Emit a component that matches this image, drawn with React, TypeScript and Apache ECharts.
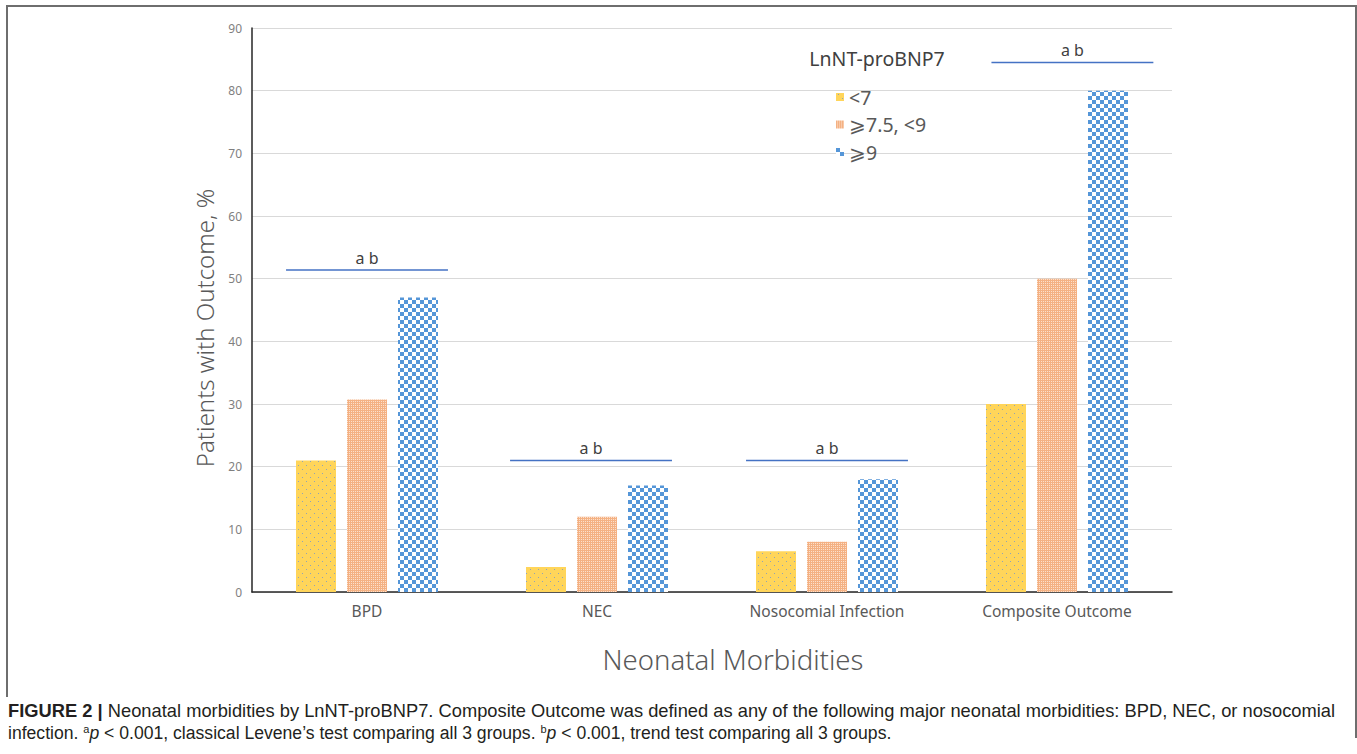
import React, { useEffect, useRef } from 'react';
import * as echarts from 'echarts';

const categories = ['BPD', 'NEC', 'Nosocomial Infection', 'Composite Outcome'];
const seriesNames = ['<7', '⩾7.5, <9', '⩾9'];
const lowValues = [21, 4, 6.5, 30];
const midValues = [30.7, 12, 8, 50];
const highValues = [47, 17, 18, 80];
const annotationHeights = [51.4, 21, 21, 84.5];
const annotationLabels = ['a b', 'a b', 'a b', 'a b'];
const annotationShift = [0, -0.026, 0, 0.067];
const yMin = 0;
const yMax = 90;
const yInterval = 10;

const legendTitle = 'LnNT-proBNP7';
const yTitle = 'Patients with Outcome, %';
const xTitle = 'Neonatal Morbidities';
const captionLine1 =
  '{b|FIGURE 2 |} Neonatal morbidities by LnNT-proBNP7. Composite Outcome was defined as any of the following major neonatal morbidities: BPD, NEC, or nosocomial';
const captionLine2 =
  'infection. {sup|a}{i|p} < 0.001, classical Levene’s test comparing all 3 groups. {sup|b}{i|p} < 0.001, trend test comparing all 3 groups.';

const FONT = '"Noto Sans", "Open Sans", sans-serif';
const CAP_FONT = '"Liberation Sans", Arial, sans-serif';

function makeTile(size: number, draw: (ctx: CanvasRenderingContext2D) => void) {
  const c = document.createElement('canvas');
  c.width = size;
  c.height = size;
  const ctx = c.getContext('2d') as CanvasRenderingContext2D;
  draw(ctx);
  return c;
}

function patterns() {
  const yellow = makeTile(8, (ctx) => {
    ctx.fillStyle = '#FFD55A';
    ctx.fillRect(0, 0, 8, 8);
    ctx.fillStyle = '#8FA3B8';
    ctx.fillRect(2, 1, 1, 1);
    ctx.fillRect(6, 5, 1, 1);
  });
  const orange = makeTile(4, (ctx) => {
    ctx.fillStyle = '#F4B183';
    ctx.fillRect(0, 0, 4, 4);
    ctx.fillStyle = '#FCE0CC';
    ctx.fillRect(1, 1, 1, 1);
    ctx.fillRect(3, 3, 1, 1);
    ctx.fillRect(1, 3, 1, 1);
    ctx.fillRect(3, 1, 1, 1);
  });
  const blue = makeTile(8, (ctx) => {
    ctx.fillStyle = '#FFFFFF';
    ctx.fillRect(0, 0, 8, 8);
    ctx.fillStyle = '#5596D8';
    ctx.fillRect(0, 0, 4, 4);
    ctx.fillRect(4, 4, 4, 4);
  });
  const pat = (img: HTMLCanvasElement) => ({
    image: img,
    repeat: 'repeat',
    imageWidth: img.width,
    imageHeight: img.height,
  });
  return [pat(yellow), pat(orange), pat(blue)];
}

export default function App() {
  const ref = useRef<HTMLDivElement>(null);
  useEffect(() => {
    if (!ref.current) return;
    const chart = echarts.init(ref.current, null, { renderer: 'svg' });
    const pats = patterns();
    const values = [lowValues, midValues, highValues];
    const barSeries = seriesNames.map((name, i) => ({
      name,
      type: 'bar',
      data: values[i],
      barWidth: 40,
      barGap: '27.5%',
      itemStyle: { color: pats[i] as any },
    }));
    const option: any = {
      animation: false,
      backgroundColor: '#ffffff',
      grid: { left: 252, top: 28, width: 920, height: 564, containLabel: false },
      legend: {
        data: seriesNames,
        orient: 'vertical',
        left: 831,
        top: 82,
        itemWidth: 8,
        itemHeight: 8,
        itemGap: 7.5,
        icon: 'rect',
        textStyle: { color: '#595959', fontSize: 19.5, fontFamily: FONT },
      },
      xAxis: {
        type: 'category',
        data: categories,
        axisLine: { lineStyle: { color: '#262626', width: 1.5 } },
        axisTick: { show: false },
        axisLabel: { color: '#595959', fontSize: 15.5, margin: 11, fontFamily: FONT },
      },
      yAxis: {
        type: 'value',
        min: yMin,
        max: yMax,
        interval: yInterval,
        axisLine: { show: true, lineStyle: { color: '#262626', width: 1.5 } },
        axisTick: { show: false },
        splitLine: { lineStyle: { color: '#D9D9D9', width: 1 } },
        axisLabel: { color: '#7F7F7F', fontSize: 12, margin: 10, fontFamily: FONT },
      },
      series: [
        ...barSeries,
        {
          type: 'custom',
          name: 'annotations',
          data: annotationHeights.map((h, i) => [i, h]),
          z: 5,
          renderItem: (params: any, api: any) => {
            const idx = params.dataIndex;
            const w = api.size([1, 0])[0];
            const p = api.coord([api.value(0), api.value(1)]);
            const cx = p[0] + annotationShift[idx] * w;
            const half = w * 0.352;
            return {
              type: 'group',
              children: [
                {
                  type: 'line',
                  shape: { x1: cx - half, y1: p[1], x2: cx + half, y2: p[1] },
                  style: { stroke: '#4472C4', lineWidth: 1.5 },
                },
                {
                  type: 'text',
                  x: cx,
                  y: p[1] - 4,
                  style: {
                    text: annotationLabels[idx],
                    align: 'center',
                    verticalAlign: 'bottom',
                    fill: '#404040',
                    fontSize: 16,
                    fontFamily: FONT,
                  },
                },
              ],
            };
          },
        },
      ],
      graphic: [
        {
          type: 'text',
          x: 877,
          y: 58,
          style: {
            text: legendTitle,
            fill: '#404040',
            fontSize: 19.5,
            fontFamily: FONT,
            align: 'center',
            verticalAlign: 'middle',
          },
        },
        {
          type: 'text',
          x: 204,
          y: 328,
          rotation: Math.PI / 2,
          style: {
            text: yTitle,
            fill: '#595959',
            fontSize: 24,
            fontWeight: 300,
            fontFamily: FONT,
            align: 'center',
            verticalAlign: 'middle',
          },
        },
        {
          type: 'text',
          x: 733,
          y: 659,
          style: {
            text: xTitle,
            fill: '#595959',
            fontSize: 27.5,
            fontWeight: 300,
            fontFamily: FONT,
            align: 'center',
            verticalAlign: 'middle',
          },
        },
        {
          type: 'polyline',
          shape: { points: [[7, 697], [7, 6], [1356, 6], [1356, 738]] },
          style: { stroke: '#6E6E6E', lineWidth: 2, fill: 'none' },
        },
        {
          type: 'text',
          x: 8,
          y: 711,
          scaleX: 1.041,
          style: {
            text: captionLine1,
            fill: '#231F20',
            fontSize: 17.6,
            fontFamily: CAP_FONT,
            verticalAlign: 'middle',
            rich: {
              b: { fontWeight: 'bold', fontSize: 17.6, fontFamily: CAP_FONT },
            },
          },
        },
        {
          type: 'text',
          x: 8,
          y: 733,
          style: {
            text: captionLine2,
            fill: '#231F20',
            fontSize: 17.6,
            fontFamily: CAP_FONT,
            verticalAlign: 'middle',
            rich: {
              sup: { fontSize: 11, padding: [0, 0, 9, 0], fontFamily: CAP_FONT },
              i: { fontStyle: 'italic', fontSize: 17.6, fontFamily: CAP_FONT },
            },
          },
        },
      ],
    };
    chart.setOption(option);
    return () => chart.dispose();
  }, []);
  return (
    <div
      ref={ref}
      style={{ position: 'fixed', left: 0, top: 0, width: 1357, height: 754, background: '#fff' }}
    />
  );
}
